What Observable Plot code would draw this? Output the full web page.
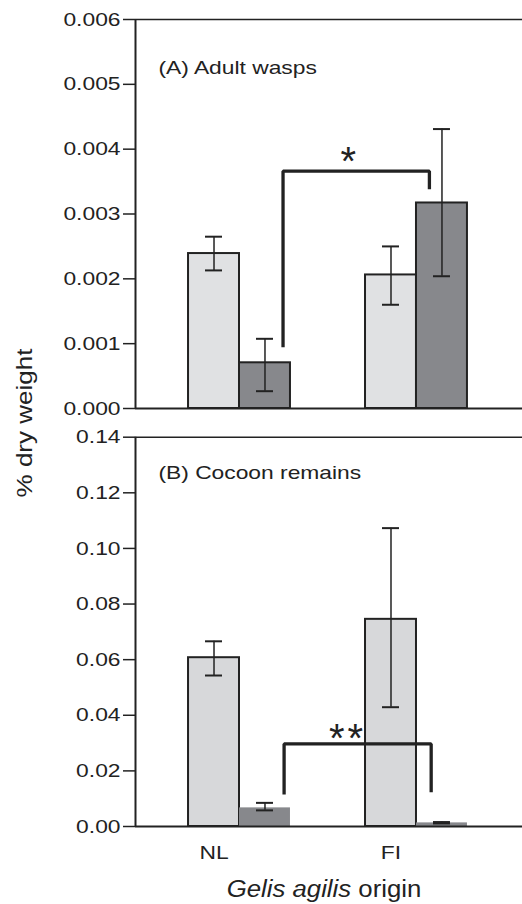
<!DOCTYPE html>
<html>
<head>
<meta charset="utf-8">
<script src="https://cdn.jsdelivr.net/npm/d3@7"></script>
<script src="https://cdn.jsdelivr.net/npm/@observablehq/plot@0.6"></script>
<style>
  body { margin: 0; background: #fff; font-family: "Liberation Sans", Arial, sans-serif; color: #222; }
  #wrap { position: relative; width: 522px; height: 904px; overflow: hidden; background: #fff; }
  #top, #bottom { position: absolute; left: 0; }
  #top { top: 0; }
  #bottom { top: 424px; }
  #ytitle { position: absolute; left: 25px; top: 423px; font-size: 21.5px; white-space: nowrap;
            transform: translate(-50%, -50%) rotate(-90deg) scaleX(1.21); }
  #xtitle { position: absolute; left: 324px; top: 889px; font-size: 23px; white-space: nowrap;
            transform: translate(-50%, -50%) scaleX(1.12); }
</style>
</head>
<body>
<div id="wrap">
  <div id="top"></div>
  <div id="bottom"></div>
  <div id="ytitle">% dry weight</div>
  <div id="xtitle"><i>Gelis agilis</i> origin</div>
</div>
<script>
// ---- data ----
const origins = ["NL", "FI"];
const barOrigin = ["NL", "NL", "FI", "FI"];
const barGroup = ["light", "dark", "light", "dark"];

// (A) Adult wasps
const adultMean = [0.00239, 0.000705, 0.00206, 0.00317];
const adultLow  = [0.00213, 0.000267, 0.00160, 0.00204];
const adultHigh = [0.00265, 0.001075, 0.00250, 0.00431];
const adultTicks = [0, 0.001, 0.002, 0.003, 0.004, 0.005, 0.006];
const adultBracketX = [0.246, 0.246, 1.073, 1.073];
const adultBracketY = [0.000945, 0.00366, 0.00366, 0.00338];
const adultStar = {label: "*", x: 0.615, y: 0.00395};
const adultTitle = {label: "(A) Adult wasps", x: -0.458, y: 0.00525};

// (B) Cocoon remains
const cocoonMean = [0.0607, 0.0067, 0.0745, 0.0013];
const cocoonLow  = [0.0543, 0.0058, 0.0429, 0.0011];
const cocoonHigh = [0.0666, 0.0085, 0.1073, 0.0016];
const cocoonTicks = [0, 0.02, 0.04, 0.06, 0.08, 0.10, 0.12, 0.14];
const cocoonBracketX = [0.252, 0.252, 1.083, 1.083];
const cocoonBracketY = [0.0115, 0.0297, 0.0297, 0.0123];
const cocoonStar = {label: "**", x: 0.602, y: 0.0351};
const cocoonTitle = {label: "(B) Cocoon remains", x: -0.458, y: 0.127};

// ---- layout / style ----
const xDomain = [-0.5876, 1.599];
const barW = 0.288;
const capW = 0.096;
const ink = "#222";
const font = "'Liberation Sans', Arial, sans-serif";

function rows(mean, low, high) {
  return mean.map((m, i) => {
    const oi = origins.indexOf(barOrigin[i]);
    const x1 = oi + (barGroup[i] === "light" ? -barW : 0);
    return {origin: barOrigin[i], group: barGroup[i], mean: m, low: low[i], high: high[i],
            x1, x2: x1 + barW, xc: x1 + barW / 2};
  });
}

function panel({data, ticks, fmt, yMax, lightFill, darkFill, darkStroke, bx, by, star, title,
                height, marginTop, marginBottom, xLabels}) {
  const light = data.filter(d => d.group === "light");
  const dark = data.filter(d => d.group === "dark");
  const bracket = bx.map((x, i) => ({x, y: by[i]}));
  const marks = [
    Plot.rectY(light, {x1: "x1", x2: "x2", y1: 0, y2: "mean", fill: lightFill, stroke: ink, strokeWidth: 2}),
    Plot.rectY(dark, {x1: "x1", x2: "x2", y1: 0, y2: "mean", fill: darkFill,
                      stroke: darkStroke ? ink : "none", strokeWidth: 2}),
    Plot.ruleX(data, {x: "xc", y1: "low", y2: "high", stroke: ink, strokeWidth: 1.5}),
    Plot.ruleY(data, {y: "low", x1: d => d.xc - capW / 2, x2: d => d.xc + capW / 2, stroke: ink, strokeWidth: 2}),
    Plot.ruleY(data, {y: "high", x1: d => d.xc - capW / 2, x2: d => d.xc + capW / 2, stroke: ink, strokeWidth: 2}),
    Plot.line(bracket, {x: "x", y: "y", stroke: ink, strokeWidth: 3.3, strokeLinejoin: "miter", strokeLinecap: "butt"}),
    Plot.text([star], {x: "x", y: "y", text: "label", fontSize: 40, fill: ink, dy: 10, fontFamily: font,
                       fontWeight: 300}),
    Plot.text([title], {x: "x", y: "y", text: "label", textAnchor: "start", fontSize: 19, fill: ink}),
    Plot.axisY({ticks, tickFormat: d3.format(fmt), tickSize: 12, tickPadding: 3, label: null,
                fontSize: 19, stroke: ink, strokeWidth: 1.5, fill: ink}),
    Plot.ruleX([xDomain[0]], {stroke: ink, strokeWidth: 2}),
    Plot.ruleY([0], {stroke: ink, strokeWidth: 2}),
    Plot.ruleY([yMax], {stroke: ink, strokeWidth: 1.5})
  ];
  if (xLabels) {
    const labs = origins.map((o, i) => ({label: o, x: i - barW / 2}));
    marks.push(Plot.text(labs, {x: "x", y: 0, text: "label", dy: 26, fontSize: 19, fill: ink}));
  }
  return Plot.plot({
    width: 522, height, marginLeft: 135, marginRight: 0, marginTop, marginBottom,
    style: {fontFamily: font, fontSize: "19px", color: ink, background: "transparent", overflow: "visible"},
    x: {domain: xDomain, axis: null},
    y: {domain: [0, yMax], axis: null},
    marks
  });
}

const topChart = panel({
  data: rows(adultMean, adultLow, adultHigh), ticks: adultTicks, fmt: ".3f", yMax: 0.006,
  lightFill: "#e0e1e3", darkFill: "#87888c", darkStroke: true,
  bx: adultBracketX, by: adultBracketY, star: adultStar, title: adultTitle,
  height: 424, marginTop: 19, marginBottom: 16, xLabels: false
});
const bottomChart = panel({
  data: rows(cocoonMean, cocoonLow, cocoonHigh), ticks: cocoonTicks, fmt: ".2f", yMax: 0.14,
  lightFill: "#d7d8da", darkFill: "#87888c", darkStroke: false,
  bx: cocoonBracketX, by: cocoonBracketY, star: cocoonStar, title: cocoonTitle,
  height: 480, marginTop: 12.7, marginBottom: 78, xLabels: true
});
document.getElementById("top").appendChild(topChart);
document.getElementById("bottom").appendChild(bottomChart);

// widen glyphs horizontally to match the reference's stretched lettering
for (const svg of [topChart, bottomChart]) {
  svg.querySelectorAll("text").forEach(t => {
    const stars = t.textContent.startsWith("*");
    const L = t.getComputedTextLength();
    if (L > 0) {
      t.setAttribute("textLength", (L * (stars ? 1.1 : 1.2)).toFixed(1));
      t.setAttribute("lengthAdjust", stars ? "spacing" : "spacingAndGlyphs");
    }
  });
}
</script>
</body>
</html>
